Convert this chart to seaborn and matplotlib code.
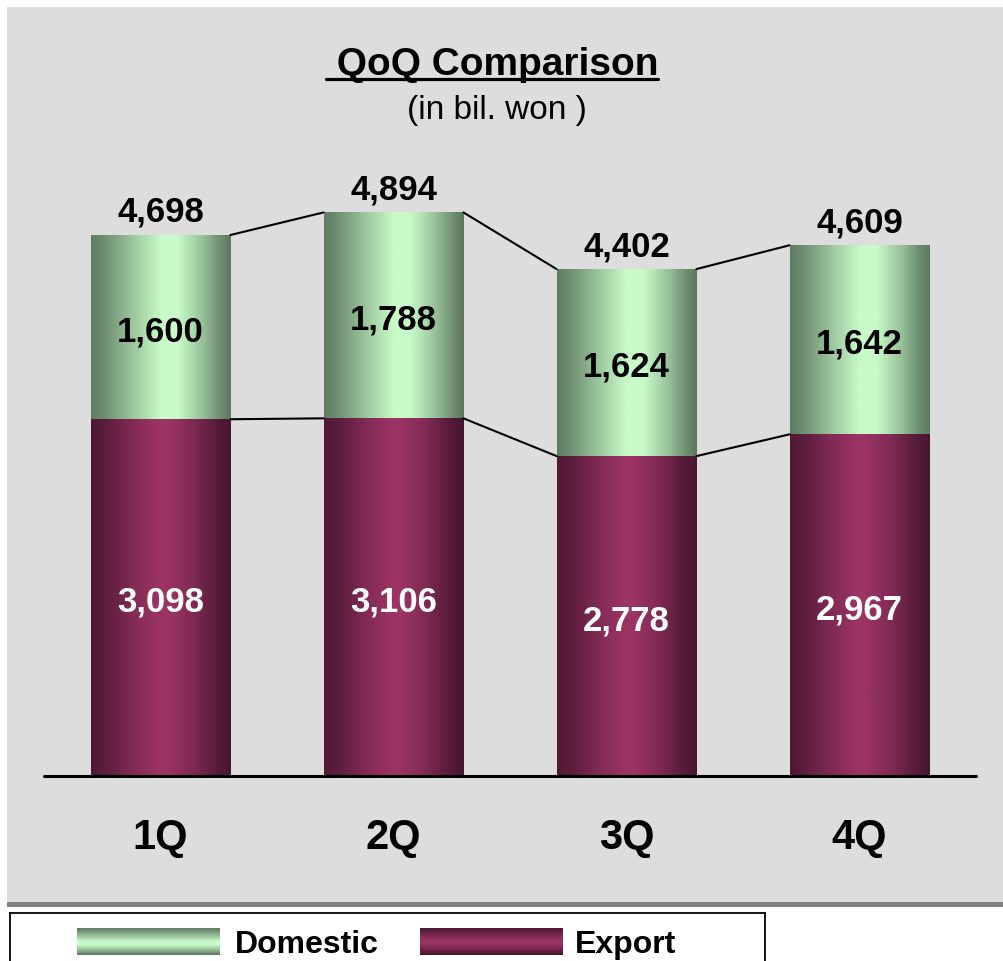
import numpy as np
import matplotlib
matplotlib.use("Agg")
import matplotlib.pyplot as plt
import seaborn as sns
import pandas as pd
from matplotlib.patches import Rectangle
from matplotlib.lines import Line2D
from matplotlib.colors import to_rgb

# ---------------- data ----------------
quarters = ["1Q", "2Q", "3Q", "4Q"]
domestic = [1600, 1788, 1624, 1642]
export = [3098, 3106, 2778, 2967]
total = [4698, 4894, 4402, 4609]
series_names = ["Domestic", "Export"]
title_text = " QoQ Comparison"
subtitle_text = "(in bil. won )"

# ---------------- style ----------------
sns.set_theme(style="white")
plt.rcParams["font.family"] = ["Liberation Sans", "DejaVu Sans"]
plt.rcParams["text.color"] = "black"

W, H = 1004, 962
fig = plt.figure(figsize=(W / 100, H / 100), dpi=100)
fig.patch.set_facecolor("white")


def fx(px):
    return px / W


def fy(py):
    return 1 - py / H


GREEN_DARK, GREEN_LIGHT = np.array(to_rgb("#5c785f")), np.array(to_rgb("#c8fbc8"))
MAROON_DARK, MAROON_LIGHT = np.array(to_rgb("#46162e")), np.array(to_rgb("#9b3365"))


def gradient(dark, light, ts, vs, n=240):
    t = np.linspace(0, 1, n)
    v = np.interp(t, ts, vs)
    return dark[None, :] + (light - dark)[None, :] * v[:, None]


green_grad = gradient(GREEN_DARK, GREEN_LIGHT,
                      [0, 0.1, 0.3, 0.5, 0.62, 0.8, 0.92, 1.0],
                      [0.03, 0.18, 0.6, 1.0, 1.0, 0.55, 0.18, 0.0])
maroon_grad = gradient(MAROON_DARK, MAROON_LIGHT,
                       [0, 0.1, 0.3, 0.48, 0.55, 0.72, 0.9, 1.0],
                       [0.1, 0.25, 0.7, 1.0, 1.0, 0.7, 0.2, 0.0])

# ---------------- background panel ----------------
fig.add_artist(Rectangle((fx(7), fy(908)), fx(1004) - fx(7), 5 / H,
                         transform=fig.transFigure, facecolor="#808080",
                         edgecolor="none", zorder=-10))
fig.add_artist(Rectangle((fx(7), fy(903)), fx(1004) - fx(7), (903 - 8) / H,
                         transform=fig.transFigure, facecolor="#dddddd",
                         edgecolor="none", zorder=-10))

# ---------------- main axes ----------------
ax = fig.add_axes([fx(44), fy(777), (976 - 44) / W, (777 - 100) / H])
ax.set_facecolor("none")
ax.patch.set_alpha(0)

df = pd.DataFrame({"Quarter": quarters, "Total": total, "Export": export,
                   "Domestic": domestic})
sns.barplot(data=df, x="Quarter", y="Total", color=GREEN_LIGHT, width=0.6,
            saturation=1, ax=ax, zorder=1)
sns.barplot(data=df, x="Quarter", y="Export", color=MAROON_LIGHT, width=0.6,
            saturation=1, ax=ax, zorder=3)

for k, p in enumerate(list(ax.patches)):
    grad = green_grad if k < len(quarters) else maroon_grad
    z = 2 if k < len(quarters) else 4
    x0, y0, w, h = p.get_x(), p.get_y(), p.get_width(), p.get_height()
    im = ax.imshow(grad[None, :, :], extent=[x0, x0 + w, y0, y0 + h],
                   aspect="auto", interpolation="bilinear", zorder=z)
    im.set_clip_path(p)
    p.set_edgecolor("none")

# connector lines
half = 0.3
for i in range(len(quarters) - 1):
    ax.plot([i + half, i + 1 - half], [total[i], total[i + 1]],
            color="black", lw=1.5, zorder=5)
    ax.plot([i + half, i + 1 - half], [export[i], export[i + 1]],
            color="black", lw=1.5, zorder=5)

ax.axhline(0, color="black", lw=2.2, zorder=6, clip_on=False)

# value labels
for i in range(len(quarters)):
    ax.annotate(f"{total[i]:,}", (i, total[i]), xytext=(0, 19.5),
                textcoords="offset points", ha="center", va="center_baseline",
                fontsize=25, fontweight="bold", color="black", zorder=7)
    ax.text(i, export[i] + domestic[i] / 2, f"{domestic[i]:,}", ha="center",
            va="center_baseline", fontsize=25, fontweight="bold",
            color="black", zorder=7)
    ax.text(i, export[i] / 2, f"{export[i]:,}", ha="center",
            va="center_baseline", fontsize=25, fontweight="bold",
            color="white", zorder=7)

ax.set_xlim(-0.5, 3.5)
ax.set_ylim(0, 5879)
ax.set_xlabel("")
ax.set_ylabel("")
ax.set_yticks([])
ax.tick_params(axis="x", length=0, pad=29.5, labelsize=30, labelcolor="black")
for lab in ax.get_xticklabels():
    lab.set_fontweight("bold")
for s in ax.spines.values():
    s.set_visible(False)

# ---------------- titles ----------------
t = fig.text(fx(492), fy(75), title_text, ha="center", va="baseline",
             fontsize=28, fontweight="bold", color="black")
fig.text(fx(497), fy(119), subtitle_text, ha="center", va="baseline",
         fontsize=24, color="black")
renderer = fig.canvas.get_renderer()
bb = t.get_window_extent(renderer)
fig.add_artist(Line2D([bb.x0 / W, bb.x1 / W], [fy(80), fy(80)],
                      transform=fig.transFigure, color="black", lw=2.3))

# ---------------- legend ----------------
lax = fig.add_axes([fx(10), 0, (765 - 10) / W, (962 - 914) / H])
lax.set_xlim(0, 755)
lax.set_ylim(0, 48)
lax.set_facecolor("white")
lax.set_xticks([])
lax.set_yticks([])
for side in ["top", "left", "right"]:
    lax.spines[side].set_visible(True)
    lax.spines[side].set_color("black")
    lax.spines[side].set_linewidth(1.3)
lax.spines["bottom"].set_visible(False)

legend_items = [(series_names[0], green_grad, 67, 225),
                (series_names[1], maroon_grad, 410, 565)]
for name, grad, sx, tx in legend_items:
    lax.imshow(grad[:, None, :], extent=[sx, sx + 143, 6, 33], aspect="auto",
               interpolation="bilinear")
    lax.text(tx, 9, name, ha="left", va="baseline", fontsize=23,
             fontweight="bold", color="black")
lax.set_xlim(0, 755)
lax.set_ylim(0, 48)

fig.savefig("out.png", dpi=100, facecolor="white")
